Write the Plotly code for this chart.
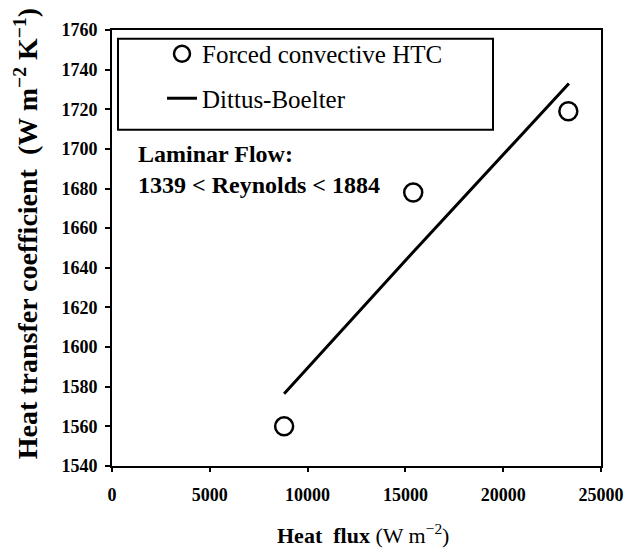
import plotly.graph_objects as go

# Data
heat_flux = [8800, 15400, 23330]
htc_measured = [1560, 1678, 1719]
db_heat_flux = [8800, 15400, 23360]
htc_dittus = [1576.5, 1648, 1733]

x_ticks = [0, 5000, 10000, 15000, 20000, 25000]
y_ticks = [1540, 1560, 1580, 1600, 1620, 1640, 1660, 1680, 1700, 1720, 1740, 1760]

FONT = "Liberation Serif"
# page body has an 8px offset; compensate so the plot lands where the reference has it
OFF = 8
PL, PR, PT, PB = 112, 601, 20, 466   # plot-area edges in window pixels
PW, PH = PR - PL, PB - PT

def px_x(v):
    return (v - PL) / PW

def px_y(v):
    return (PB - v) / PH

fig = go.Figure()
fig.add_trace(go.Scatter(
    x=heat_flux, y=htc_measured, mode="markers",
    name="Forced convective HTC", legendgroup="a",
    marker=dict(symbol="circle-open", size=18, color="black", line=dict(width=2.5, color="black")),
))
fig.add_trace(go.Scatter(
    x=db_heat_flux, y=htc_dittus, mode="lines",
    name="Dittus-Boelter", legendgroup="b",
    line=dict(color="black", width=3),
))

fig.update_layout(
    width=637, height=549,
    margin=dict(l=PL - OFF, r=637 - PR + OFF, t=PT - OFF, b=549 - PB + OFF),
    paper_bgcolor="white", plot_bgcolor="white",
    font=dict(family=FONT, color="black"),
    showlegend=True,
    legend=dict(
        x=px_x(162), y=px_y(21), xanchor="left", yanchor="top",
        bgcolor="rgba(0,0,0,0)", borderwidth=0,
        font=dict(family=FONT, size=25, color="black"),
        traceorder="grouped", tracegroupgap=9,
    ),
    shapes=[dict(
        type="rect", xref="paper", yref="paper",
        x0=px_x(118), x1=px_x(493),
        y0=px_y(122), y1=px_y(29),
        line=dict(color="black", width=2), fillcolor="rgba(0,0,0,0)",
    )],
    annotations=[
        dict(text="<b>Laminar Flow:</b><br><b>1339 &lt; Reynolds &lt; 1884</b>",
             xref="paper", yref="paper", align="left",
             x=px_x(136), y=px_y(163), xanchor="left", yanchor="middle",
             showarrow=False, font=dict(family=FONT, size=24, color="black")),
        # axis titles placed as annotations for exact positioning
        dict(text="<b>Heat\u00a0 flux</b> (W m<sup>\u22122</sup>)",
             xref="paper", yref="paper", x=px_x(363), y=px_y(536),
             xanchor="center", yanchor="middle", showarrow=False,
             font=dict(family=FONT, size=22, color="black")),
        dict(text="<b>Heat transfer coefficient\u00a0 (W m<sup>\u22122</sup> K<sup>\u22121</sup>)</b>",
             xref="paper", yref="paper", x=px_x(26), y=px_y(229), textangle=-90,
             xanchor="center", yanchor="middle", showarrow=False,
             font=dict(family=FONT, size=28, color="black")),
    ],
)

fig.update_xaxes(
    range=[0, 25000], tickvals=x_ticks, ticktext=[str(v) for v in x_ticks],
    showgrid=False, zeroline=False,
    showline=True, linecolor="black", linewidth=2, mirror=True,
    ticks="outside", ticklen=4, tickwidth=2, tickcolor="black", ticklabelstandoff=7,
    tickfont=dict(family=FONT, size=18, color="black", weight="bold"),
)
fig.update_yaxes(
    range=[1540, 1760], tickvals=y_ticks, ticktext=[str(v) for v in y_ticks],
    showgrid=False, zeroline=False,
    showline=True, linecolor="black", linewidth=2, mirror=True,
    ticks="outside", ticklen=5, tickwidth=2, tickcolor="black", ticklabelstandoff=4,
    tickfont=dict(family=FONT, size=18, color="black", weight="bold"),
)

fig.write_html("out.html")
